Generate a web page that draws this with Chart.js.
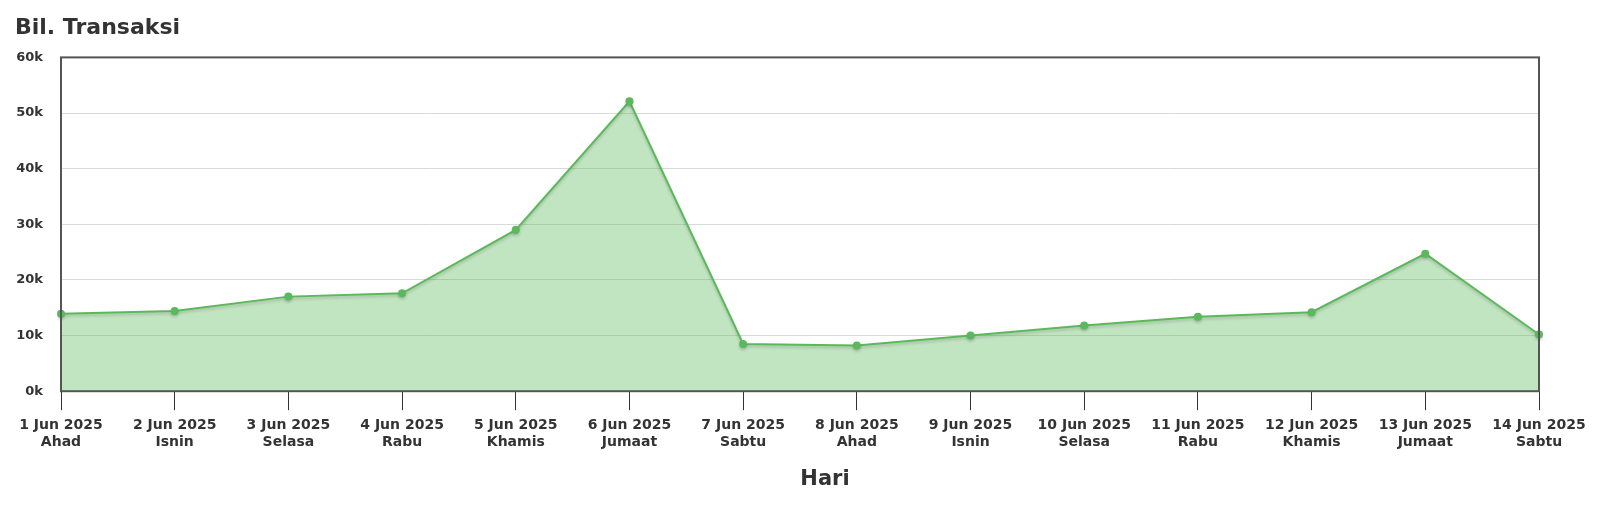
<!DOCTYPE html>
<html>
<head>
<meta charset="utf-8">
<script src="https://cdn.jsdelivr.net/npm/chart.js@4/dist/chart.umd.min.js"></script>
<style>
  html, body { margin: 0; padding: 0; background: #fff; }
  #wrap { width: 1600px; height: 523px; }
</style>
</head>
<body>
<div id="wrap"><canvas id="txChart"></canvas></div>
<script>
var dates = ['1 Jun 2025', '2 Jun 2025', '3 Jun 2025', '4 Jun 2025', '5 Jun 2025', '6 Jun 2025', '7 Jun 2025',
             '8 Jun 2025', '9 Jun 2025', '10 Jun 2025', '11 Jun 2025', '12 Jun 2025', '13 Jun 2025', '14 Jun 2025'];
var days = ['Ahad', 'Isnin', 'Selasa', 'Rabu', 'Khamis', 'Jumaat', 'Sabtu',
            'Ahad', 'Isnin', 'Selasa', 'Rabu', 'Khamis', 'Jumaat', 'Sabtu'];
var transactions = [13900, 14400, 17000, 17600, 29000, 52100, 8500,
                    8200, 10000, 11800, 13400, 14200, 24700, 10200];
var xTitle = 'Hari';

var labels = dates.map(function(d, i) { return [d, days[i]]; });

Chart.defaults.font.family = '"DejaVu Sans", sans-serif';
Chart.defaults.color = '#333';

// frame round the plot area
var framePlugin = {
    id: 'frame',
    afterDraw: function(chart) {
        var a = chart.chartArea, c = chart.ctx;
        c.save();
        c.strokeStyle = '#555';
        c.lineWidth = 2;
        c.strokeRect(a.left, a.top, a.right - a.left, a.bottom - a.top);
        c.restore();
    }
};

// soft shadow under the line only
var shadowPlugin = {
    id: 'lineShadow',
    beforeDatasetDraw: function(chart) {
        var c = chart.ctx;
        c.save();
        c.shadowColor = 'rgba(0, 0, 0, 0.18)';
        c.shadowBlur = 3;
        c.shadowOffsetY = 2;
    },
    afterDatasetDraw: function(chart) {
        chart.ctx.restore();
    }
};

// x axis title sits a bit right of the plot centre, as in the original
var xTitlePlugin = {
    id: 'xTitle',
    afterDraw: function(chart) {
        var a = chart.chartArea, c = chart.ctx;
        c.save();
        c.fillStyle = '#333';
        c.font = 'bold 21px "DejaVu Sans", sans-serif';
        c.textAlign = 'center';
        c.textBaseline = 'middle';
        c.fillText(xTitle, (a.left + a.right) / 2 + 25, a.bottom + 88);
        c.restore();
    }
};

new Chart(document.getElementById('txChart').getContext('2d'), {
    type: 'line',
    data: {
        labels: labels,
        datasets: [{
            data: transactions,
            borderColor: '#5cb85c',
            backgroundColor: 'rgba(92, 184, 92, 0.38)',
            borderWidth: 2,
            fill: 'origin',
            tension: 0,
            pointRadius: 4,
            pointBackgroundColor: '#5cb85c',
            pointBorderWidth: 0
        }]
    },
    options: {
        responsive: true,
        maintainAspectRatio: false,
        animation: false,
        layout: { padding: { left: 15, right: 61, top: 0, bottom: 0 } },
        plugins: {
            legend: { display: false },
            tooltip: { enabled: false },
            filler: { drawTime: 'beforeDatasetsDraw' },
            title: {
                display: true,
                text: 'Bil. Transaksi',
                align: 'start',
                color: '#333',
                font: { size: 22, weight: 'bold' },
                padding: { top: 15, bottom: 16 }
            }
        },
        scales: {
            x: {
                offset: false,
                grid: { drawOnChartArea: false, drawTicks: true, tickLength: 19, color: '#333' },
                border: { display: false },
                ticks: {
                    maxRotation: 0,
                    autoSkip: false,
                    padding: 7,
                    color: '#333',
                    font: { size: 14, weight: 'bold', lineHeight: 1.2 }
                },
                title: {
                    display: true,
                    text: xTitle,
                    color: 'rgba(0,0,0,0)',
                    font: { size: 21, weight: 'bold' },
                    padding: { top: 14, bottom: 26 }
                }
            },
            y: {
                min: 0,
                max: 60000,
                afterFit: function(scale) { scale.width = 46; },
                grid: { color: '#d9d9d9', drawTicks: false },
                border: { display: false },
                ticks: {
                    stepSize: 10000,
                    padding: 18,
                    color: '#333',
                    font: { size: 13, weight: 'bold' },
                    callback: function(v) { return (v / 1000) + 'k'; }
                }
            }
        }
    },
    plugins: [framePlugin, shadowPlugin, xTitlePlugin]
});
</script>
</body>
</html>
